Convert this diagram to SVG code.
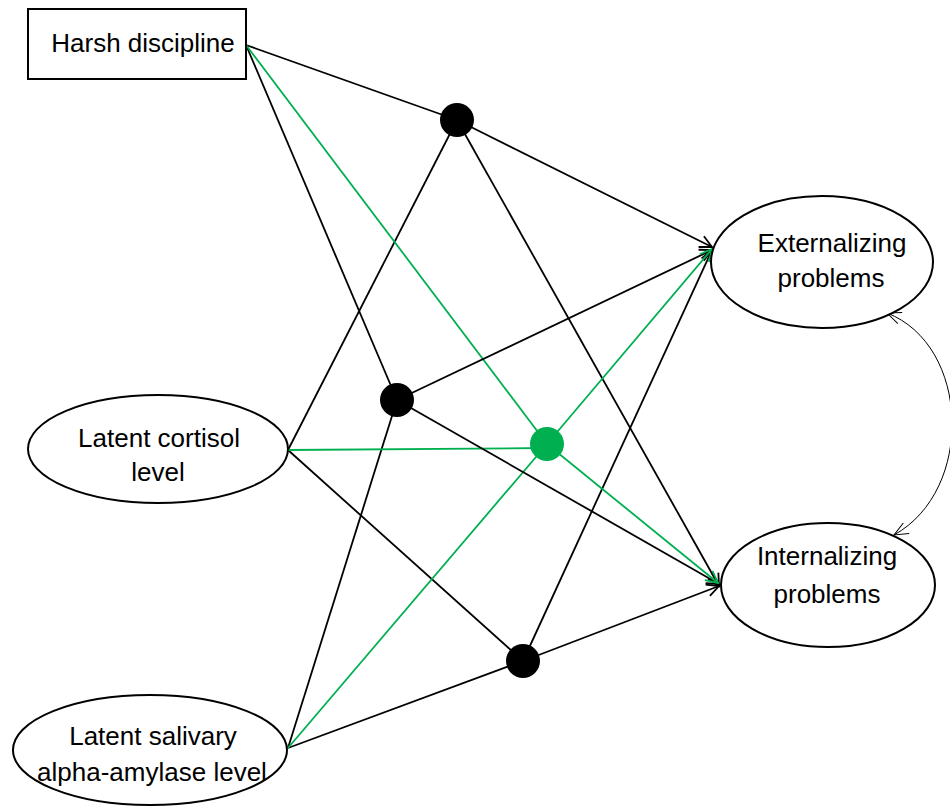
<svg xmlns="http://www.w3.org/2000/svg" width="950" height="806" viewBox="0 0 950 806">
<defs>
<marker id="ah" markerUnits="userSpaceOnUse" markerWidth="16" markerHeight="16" viewBox="0 0 16 16" refX="14" refY="8" orient="auto">
<path d="M2,2 L14,8 L2,14" fill="none" stroke="#000" stroke-width="1.8"/>
</marker>
<marker id="ahg" markerUnits="userSpaceOnUse" markerWidth="16" markerHeight="16" viewBox="0 0 16 16" refX="14" refY="8" orient="auto">
<path d="M2,2 L14,8 L2,14" fill="none" stroke="#00B050" stroke-width="1.8"/>
</marker>
<marker id="ahc" markerUnits="userSpaceOnUse" markerWidth="18" markerHeight="18" viewBox="0 0 18 18" refX="16" refY="9" orient="auto-start-reverse">
<path d="M2,3 L16,9 L2,15" fill="none" stroke="#000" stroke-width="1"/>
</marker>
</defs>
<style>
.t{font-family:"Liberation Sans",Arial,sans-serif;font-size:26px;fill:#000;text-anchor:middle}
.n{fill:#fff;stroke:#000;stroke-width:2}
.k{stroke:#000;stroke-width:1.8;fill:none}
.g{stroke:#00B050;stroke-width:1.8;fill:none}
</style>
<g id="connectors">
<!-- into top dot -->
<line class="k" x1="246" y1="45" x2="457" y2="120"/>
<line class="k" x1="288" y1="450" x2="457" y2="120"/>
<!-- into middle dot -->
<line class="k" x1="246" y1="45" x2="397" y2="400"/>
<line class="k" x1="288" y1="748" x2="397" y2="400"/>
<!-- into bottom dot -->
<line class="k" x1="288" y1="450" x2="523" y2="661"/>
<line class="k" x1="288" y1="748" x2="523" y2="661"/>
<!-- into green dot -->
<line class="g" x1="246" y1="45" x2="547" y2="444"/>
<line class="g" x1="288" y1="450" x2="547" y2="448"/>
<line class="g" x1="288" y1="748" x2="547" y2="444"/>
<!-- outgoing -->
<line class="k" x1="457" y1="120" x2="712" y2="247" marker-end="url(#ah)"/>
<line class="k" x1="457" y1="120" x2="719" y2="586" marker-end="url(#ah)"/>
<line class="k" x1="397" y1="400" x2="712" y2="250" marker-end="url(#ah)"/>
<line class="k" x1="397" y1="400" x2="719" y2="584" marker-end="url(#ah)"/>
<line class="k" x1="523" y1="661" x2="712" y2="250" marker-end="url(#ah)"/>
<line class="k" x1="523" y1="661" x2="719" y2="586" marker-end="url(#ah)"/>
<line class="g" x1="547" y1="444" x2="712" y2="249" marker-end="url(#ahg)"/>
<line class="g" x1="547" y1="444" x2="718" y2="583" marker-end="url(#ahg)"/>
<!-- correlation -->
<path d="M887,313 C970,345 975,490 894,535" fill="none" stroke="#000" stroke-width="1" marker-start="url(#ahc)" marker-end="url(#ahc)"/>
</g>
<g id="dot-top"><circle cx="457" cy="120" r="17" fill="#000"/></g>
<g id="dot-middle"><circle cx="397" cy="400" r="17" fill="#000"/></g>
<g id="dot-green"><circle cx="547" cy="444" r="17" fill="#00B050"/></g>
<g id="dot-bottom"><circle cx="523" cy="661" r="17" fill="#000"/></g>
<g id="harsh">
<rect class="n" x="28" y="9" width="218" height="70" stroke-width="1.6"/>
<text class="t" x="143" y="52">Harsh discipline</text>
</g>
<g id="cortisol">
<ellipse class="n" cx="158" cy="449" rx="130" ry="54"/>
<text class="t" x="159" y="447">Latent cortisol</text>
<text class="t" x="158" y="481">level</text>
</g>
<g id="salivary">
<ellipse class="n" cx="150" cy="750" rx="137" ry="55"/>
<text class="t" x="153" y="745">Latent salivary</text>
<text class="t" x="152" y="781">alpha-amylase level</text>
</g>
<g id="externalizing">
<ellipse class="n" cx="822" cy="262" rx="111" ry="66"/>
<text class="t" x="832" y="252">Externalizing</text>
<text class="t" x="831" y="287">problems</text>
</g>
<g id="internalizing">
<ellipse class="n" cx="828" cy="585" rx="107" ry="62"/>
<text class="t" x="827" y="565">Internalizing</text>
<text class="t" x="827" y="603">problems</text>
</g>
</svg>
